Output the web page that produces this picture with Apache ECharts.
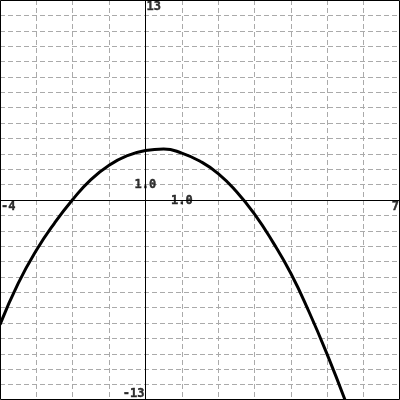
<!DOCTYPE html>
<html>
<head>
<meta charset="utf-8">
<script src="https://cdn.jsdelivr.net/npm/echarts@6/dist/echarts.min.js"></script>
<style>html,body{margin:0;padding:0;background:#fff}#c{width:400px;height:400px}</style>
</head>
<body>
<div id="c"></div>
<script>
// curve samples
var xs = [-4, -3.5, -3, -2.5, -2, -1.5, -1, -0.5, 0, 0.5, 1, 1.5, 2, 2.5, 3, 3.5, 4, 4.5, 5, 5.5];
var ys = [-8.1, -5.42, -3.27, -1.5, 0.03, 1.33, 2.26, 2.88, 3.22, 3.32, 3.05, 2.52, 1.72, 0.55, -0.92, -2.72, -4.78, -7.28, -10.05, -13.07];
var xMin = -4, xMax = 7, yMin = -13, yMax = 13;
// axis annotations: [x, y, text]
var labelX = [-4, 7, 0, 0, 0, 1];
var labelY = [0, 0, 13, -13, 1, 0];
var labelText = ['-4', '7', '13', '-13', '1.0', '1.0'];

var labelStyles = [
  {align: 'left', offset: [1, 7]},
  {align: 'right', offset: [-1, 7]},
  {align: 'left', offset: [1, 7]},
  {align: 'right', offset: [-1, -6]},
  {align: 'center', offset: [0, 0]},
  {align: 'center', offset: [0, 1]}
];

var curve = xs.map(function (x, i) { return [x, ys[i]]; });
var labels = labelText.map(function (t, i) {
  return {
    value: [labelX[i], labelY[i]],
    label: {
      show: true, formatter: t, position: 'inside',
      align: labelStyles[i].align, verticalAlign: 'middle',
      offset: labelStyles[i].offset,
      fontFamily: 'DejaVu Sans Mono', fontWeight: 'bold', fontSize: 12, color: '#000',
      textBorderColor: '#000', textBorderWidth: 0.4
    }
  };
});

var chart = echarts.init(document.getElementById('c'), null, {renderer: 'canvas'});
var splitStyle = {show: true, lineStyle: {color: '#aaaaaa', type: [5, 3], width: 1}};
chart.setOption({
  animation: false,
  backgroundColor: '#fff',
  grid: {left: 0, right: 0, top: 0, bottom: 0, containLabel: false},
  xAxis: {
    type: 'value', min: xMin, max: xMax, interval: 1,
    axisLine: {show: true, onZero: true, lineStyle: {color: '#000', width: 1}},
    axisTick: {show: false}, axisLabel: {show: false},
    splitLine: splitStyle
  },
  yAxis: {
    type: 'value', min: yMin, max: yMax, interval: 1,
    axisLine: {show: true, onZero: true, lineStyle: {color: '#000', width: 1}},
    axisTick: {show: false}, axisLabel: {show: false},
    splitLine: splitStyle
  },
  graphic: [{
    type: 'rect', z: 100, silent: true,
    shape: {x: 0.5, y: 0.5, width: 399, height: 399},
    style: {fill: null, stroke: '#000', lineWidth: 1}
  }],
  series: [
    {
      type: 'line', data: curve, showSymbol: false, smooth: true,
      lineStyle: {color: '#000', width: 3}, clip: true, z: 5
    },
    {
      type: 'scatter', data: labels, symbolSize: 0, z: 10, silent: true
    }
  ]
});
</script>
</body>
</html>
